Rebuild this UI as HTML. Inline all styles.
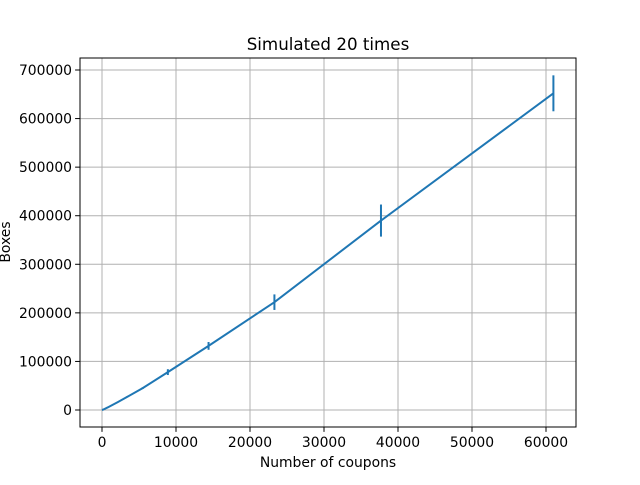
<!DOCTYPE html>
<html><head><meta charset="utf-8"><style>
body{margin:0;background:#fff}
svg text{font-family:"DejaVu Sans","Liberation Sans",sans-serif;fill:#000}
</style></head><body>
<svg id="c" width="640" height="480" xmlns="http://www.w3.org/2000/svg"></svg>
<script>
const coupons=[100,200,300,500,800,1300,2100,3400,5500,8900,14400,23300,37700,61000];
const boxes=[500,1200,1800,3400,5500,9500,16000,27000,45000,78000,132000,222000,390000,652000];
const errs=[50,100,150,300,400,600,900,1200,1800,6000,8000,16000,33000,37000];
const xTicks=[0,10000,20000,30000,40000,50000,60000];
const yTicks=[0,100000,200000,300000,400000,500000,600000,700000];
const L=80,R=576,T=58,B=427;
const xs=v=>102+v*(444/60000);
const ys=v=>410-v*(340/700000);
const svg=document.getElementById('c');
const NS='http://www.w3.org/2000/svg';
function mk(t,a,p){const e=document.createElementNS(NS,t);for(const k in a)e.setAttribute(k,a[k]);(p||svg).appendChild(e);return e;}
const grid=mk('g',{});


xTicks.forEach(v=>{mk('line',{x1:xs(v),x2:xs(v),y1:T,y2:B,stroke:'#b0b0b0','stroke-width':1},grid);});
yTicks.forEach(v=>{mk('line',{x1:L,x2:R,y1:ys(v),y2:ys(v),stroke:'#b0b0b0','stroke-width':1},grid);});
const xa=mk('g',{});


xTicks.forEach(v=>{mk('line',{x1:xs(v),x2:xs(v),y1:B,y2:B+4.9,stroke:'#000','stroke-width':1},xa);const t=mk('text',{x:xs(v),y:B+20,'text-anchor':'middle','font-size':13.9},xa);t.textContent=v;});
const ya=mk('g',{});


yTicks.forEach(v=>{mk('line',{x1:L,x2:L-4.9,y1:ys(v),y2:ys(v),stroke:'#000','stroke-width':1},ya);const t=mk('text',{x:L-8,y:ys(v)+5,'text-anchor':'end','font-size':13.9},ya);t.textContent=v;});
const line=mk('polyline',{fill:'none',stroke:'#1f77b4','stroke-width':2});


line.setAttribute('points',xs(0)+','+ys(0)+' '+coupons.map((c,i)=>xs(c)+','+ys(boxes[i])).join(' '));
coupons.forEach((c,i)=>{const e=mk('line',{x1:xs(c),x2:xs(c),y1:ys(boxes[i]-errs[i]),y2:ys(boxes[i]+errs[i]),stroke:'#1f77b4','stroke-width':2});

});
const fr=mk('rect',{x:L,y:T,width:R-L,height:B-T,fill:'none',stroke:'#000','stroke-width':1});


const tt=mk('text',{x:328,y:50,'text-anchor':'middle','font-size':16.7});tt.textContent='Simulated 20 times';


const xl=mk('text',{x:328,y:467,'text-anchor':'middle','font-size':13.9});xl.textContent='Number of coupons';


const yl=mk('text',{x:0,y:0,'text-anchor':'middle','font-size':13.9,transform:'translate(10,242) rotate(-90)'});yl.textContent='Boxes';


</script>
</body></html>
